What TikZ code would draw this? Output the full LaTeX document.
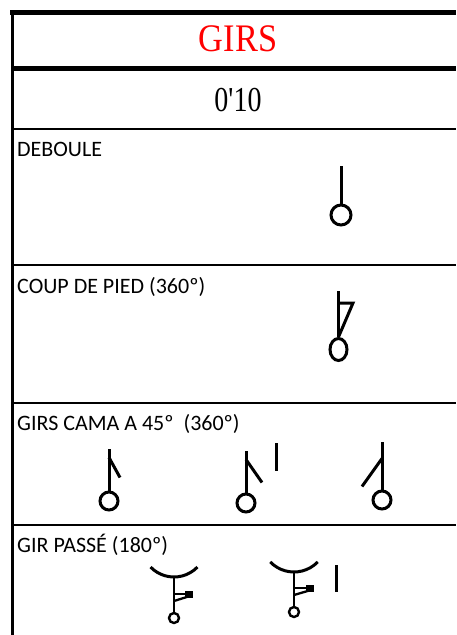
\documentclass[tikz,border=0pt]{standalone}
\usepackage{fontspec}
\setmainfont{Liberation Serif}
\newfontfamily\rowfont{Carlito}
\usepackage{xcolor}
\usepackage{tikz}
\usetikzlibrary{shapes.geometric}
\tikzstyle{heavyrule} = [draw, line width=5pt]
\tikzstyle{rule} = [draw, line width=2.6pt]
\tikzstyle{rowtitle} = [anchor=base west, inner sep=0pt,
font=\rowfont\fontsize{22}{26}\selectfont]
\tikzstyle{head} = [draw, circle, line width=3pt, minimum size=18pt, inner sep=0pt]
\tikzstyle{smallhead} = [draw, circle, line width=2.4pt, minimum size=10pt, inner sep=0pt]
\tikzstyle{stem} = [line width=3pt]
\tikzstyle{thinstem} = [line width=2.3pt]

\begin{document}
\begin{tikzpicture}[x=1pt, y=-1pt]
	\useasboundingbox (0,0) rectangle (456,635);
	% We start with the frame of the table
	\draw [heavyrule] (10,12.5) -- (456,12.5);
	\draw [heavyrule] (12.3,68.5) -- (456,68.5);
	\draw [rule] (12.3,129) -- (456,129);
	\draw [rule] (12.3,265) -- (456,265);
	\draw [rule] (12.3,403) -- (456,403);
	\draw [rule] (12.3,525) -- (456,525);
	\draw [rule] (12.3,10) -- (12.3,635);
	% Headings and row titles
	\node [anchor=base, inner sep=0pt, text=red,
	font=\fontsize{39}{44}\selectfont] (title) at (238,51) {\scalebox{0.88}[1]{GIRS}};
	\node [anchor=base, inner sep=0pt,
	font=\fontsize{35}{40}\selectfont] (time) at (238,111) {\scalebox{0.8}[1]{0\textquotesingle 10}};
	\node [rowtitle] (deboule) at (17,156) {DEBOULE};
	\node [rowtitle] (coup) at (17,293) {COUP DE PIED (360º)};
	\node [rowtitle] (cama) at (17,430) {GIRS CAMA A 45º\ \ (360º)};
	\node [rowtitle] (passe) at (17,552) {GIR PASSÉ (180º)};

	% Deboule: a plain pin
	\node [head, minimum size=20pt] (deb) at (341,215) {};
	\draw [stem] (deb.north) -- ++(0,-38);
	% Coup de pied: pin with the hook
	\node [head, ellipse, minimum width=17pt, minimum height=22pt] (cdp) at (338.5,349.5) {};
	\draw [stem] (cdp.north) -- ++(0,-46);
	\coordinate (hook) at (353,303);
	\draw [stem] (338.5,303) -- (hook) -- (cdp.north);
	% Girs cama a 45: three pins
	\node [head] (camaA) at (109,501) {};
	\draw [stem] (camaA.north) -- ++(0,-42);
	\draw [stem] (camaA.north) ++(0,-33) -- ++(11,20);
	\node [head] (camaB) at (246,503) {};
	\draw [stem] (camaB.north) -- ++(0,-42);
	\draw [stem] (camaB.north) ++(0,-33) -- ++(16,23);
	\coordinate (barB) at (276,443);
	\draw [stem] (barB) -- ++(0,28);
	\node [head] (camaC) at (382,500) {};
	\draw [stem] (camaC.north) -- ++(0,-48);
	\draw [stem] (camaC.north) ++(0,-31) -- ++(-20,28);
	% Gir passe: two pins under the arc
	\node [smallhead] (passeA) at (174,618) {};
	\coordinate (arcA) at (174,577);
	\draw [thinstem] (passeA.north) -- (arcA);
	\draw [stem] (arcA) ++(0,-32.6) ++(136:32.6) arc (136:44:32.6);
	\draw [thinstem] (174,594) -- (192,594);
	\fill (185,590.5) rectangle (193,598);
	\draw [thinstem] (174,601) -- (190,596);
	\node [smallhead] (passeB) at (294,612) {};
	\coordinate (arcB) at (294,572);
	\draw [thinstem] (passeB.north) -- (arcB);
	\draw [stem] (arcB) ++(0,-33) ++(136:33) arc (136:44:33);
	\draw [thinstem] (294,588) -- (313,588);
	\fill (306,584.5) rectangle (314,592);
	\draw [thinstem] (294,595) -- (311,590);
	\coordinate (barP) at (336,565);
	\draw [stem] (barP) -- ++(0,27);
\end{tikzpicture}
\end{document}
